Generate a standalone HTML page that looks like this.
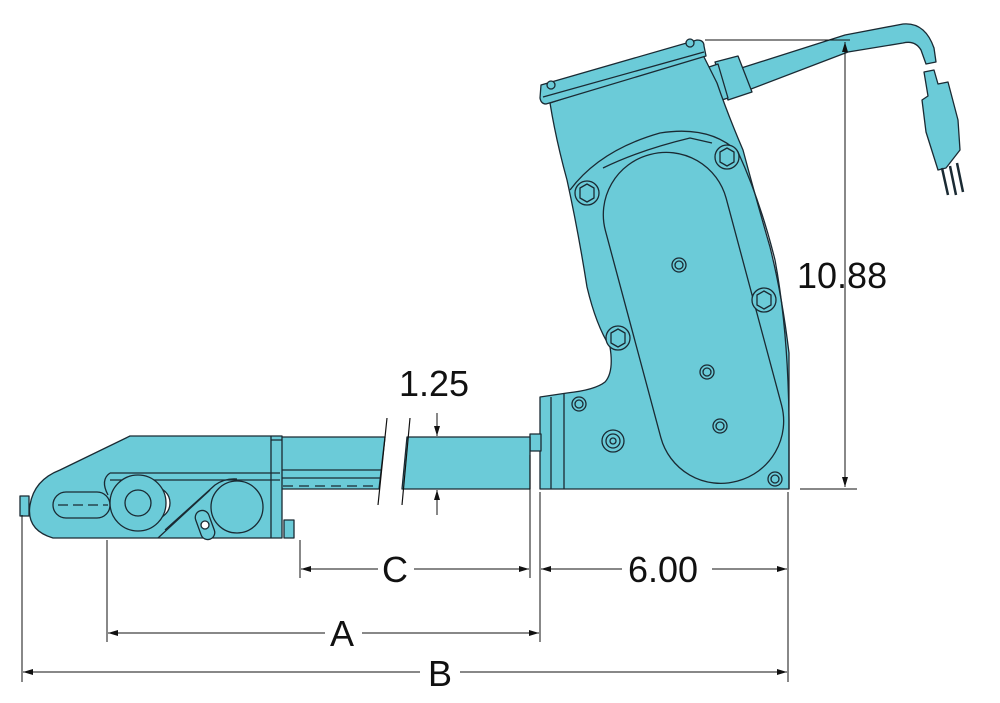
<!DOCTYPE html>
<html><head><meta charset="utf-8"><style>
html,body{margin:0;padding:0;background:#fff;}
svg{display:block}
text{font-family:"Liberation Sans",Arial,sans-serif;fill:#111}
</style></head><body>
<svg width="1000" height="703" viewBox="0 0 1000 703" xmlns="http://www.w3.org/2000/svg">
<defs>
<marker id="ar" viewBox="0 0 10 6" refX="10" refY="3" markerWidth="14" markerHeight="6" markerUnits="userSpaceOnUse" orient="auto-start-reverse"><path d="M0,0 L10,3 L0,6z" fill="#111"/></marker>
</defs>
<g stroke="#1a2a33" stroke-width="1.3" fill="#6bcbd8" stroke-linejoin="round">
<!-- cord -->
<path d="M735,70 L845,35 L903,24 Q925,22 934,48 L936,62 L926,64 L921,50 Q915,40 903,43 L848,52 L738,94 Z"/>
<path d="M924,72 L934,70 L938,84 L948,82 L958,120 L960,150 L946,168 L938,170 L926,132 L922,100 L928,96 Z"/>
<path d="M942,168 L948,195 M950,166 L956,195 M957,163 L963,192" fill="none" stroke-width="2.5"/>
<!-- connector -->
<path d="M715,62 L738,56 L752,92 L728,100 Z"/>
<path d="M706,68 L718,64 L728,98 L716,102 Z"/>
<!-- main housing -->
<path d="M550,103 Q556,140 567,180 Q578,230 587,287 Q596,325 610,347 Q614,372 605,382 Q595,390 567,393 L540,397 L540,489 L789,489 L789,353 Q782,295 770,247 Q755,195 743,150 Q728,115 717,83 L702,53 Z"/>
<!-- top cap -->
<path d="M541,85 L697,40 Q704,40 704,46 L706,56 L546,104 Q541,104 540,98 Z"/>
<path d="M543,97 L704,52" fill="none"/>
<circle cx="690" cy="43" r="4"/><circle cx="551" cy="85" r="4"/>
<!-- plate outline -->
<path d="M570,190 Q600,150 660,133 Q710,125 738,152 Q760,200 775,260 Q788,330 789,420 L789,489" fill="none"/>
<path d="M603,168 Q640,150 690,138 L712,143" fill="none"/>
<!-- capsule -->
<rect x="631" y="149" width="125" height="338" rx="62" transform="rotate(-15 693 318)"/>
<!-- step lines -->
<path d="M551,397 L551,489 M564,393 L564,489" fill="none"/>
<!-- bolts -->
<g>
<circle cx="587" cy="193" r="12"/><polygon points="580,188 587,184 594,188 594,198 587,202 580,198"/>
<circle cx="727" cy="157" r="12"/><polygon points="720,152 727,148 734,152 734,162 727,166 720,162"/>
<circle cx="764" cy="300" r="12"/><polygon points="757,295 764,291 771,295 771,305 764,309 757,305"/>
<circle cx="618" cy="338" r="12"/><polygon points="611,333 618,329 625,333 625,343 618,347 611,343"/>
<circle cx="679" cy="265" r="7"/><circle cx="679" cy="265" r="4"/>
<circle cx="707" cy="372" r="7"/><circle cx="707" cy="372" r="4"/>
<circle cx="720" cy="426" r="7"/><circle cx="720" cy="426" r="4"/>
<circle cx="579" cy="404" r="7"/><circle cx="579" cy="404" r="4"/>
<circle cx="775" cy="479" r="7"/><circle cx="775" cy="479" r="4"/>
<circle cx="613" cy="441" r="11"/><circle cx="613" cy="441" r="7"/><circle cx="613" cy="441" r="3"/>
</g>
<!-- collar -->
<rect x="530" y="434" width="11" height="17"/>
<!-- tube right -->
<path d="M407,437 L530,437 L530,489 L402,489 Z"/>
<!-- tube left -->
<path d="M280,437 L385,437 L379,489 L280,489 Z"/>
<path d="M280,470 L381,470 M280,478 L380,478" fill="none"/>
<path d="M283,486 L378,486" fill="none" stroke-dasharray="10,6"/>
<!-- lower arm -->
<path d="M130,436 L282,436 L282,538 L53,538 Q26,530 30,505 Q34,480 60,470 Z"/>
<path d="M271,436 L271,538 M271,440 L282,440" fill="none"/>
<path d="M110,473 L280,473 M110,480 L280,480" fill="none"/>
<rect x="53" y="492" width="57" height="26" rx="13"/>
<path d="M58,505 L108,505" fill="none" stroke-dasharray="10,5"/>
<path d="M110,473 Q100,480 108,495" fill="none"/>
<circle cx="154" cy="503" r="16" fill="#fff"/>
<circle cx="138" cy="503" r="28"/>
<circle cx="138" cy="503" r="13"/>
<path d="M165,530 L215,485 Q225,478 237,479" fill="none"/>
<path d="M158,538 L210,490" fill="none"/>
<circle cx="237" cy="507" r="26"/>
<rect x="198" y="510" width="14" height="30" rx="7" transform="rotate(-20 205 525)"/>
<circle cx="205" cy="525" r="4" fill="#fff"/>
<rect x="20" y="496" width="9" height="20"/>
<rect x="284" y="520" width="10" height="18"/>
</g>
<!-- break lines -->
<g stroke="#111" stroke-width="1.2" fill="none">
<path d="M387,418 L378,505 M410,418 L402,505"/>
</g>
<!-- dimensions -->
<g stroke="#111" stroke-width="1" fill="none">
<path d="M705,40 L850,40 M800,489 L857,489"/>
<path d="M845,42 L845,487" marker-start="url(#ar)" marker-end="url(#ar)"/>
<path d="M437,413 L437,436" marker-end="url(#ar)"/>
<path d="M437,515 L437,490" marker-end="url(#ar)"/>
<path d="M300,540 L300,578 M530,455 L530,578 M540,492 L540,642 M788,492 L788,682 M107,540 L107,642 M22,515 L22,682"/>
<path d="M301,569 L378,569" marker-start="url(#ar)"/>
<path d="M414,569 L529,569" marker-end="url(#ar)"/>
<path d="M541,569 L622,569" marker-start="url(#ar)"/>
<path d="M712,569 L787,569" marker-end="url(#ar)"/>
<path d="M108,633 L325,633" marker-start="url(#ar)"/>
<path d="M362,633 L539,633" marker-end="url(#ar)"/>
<path d="M23,672 L420,672" marker-start="url(#ar)"/>
<path d="M460,672 L787,672" marker-end="url(#ar)"/>
</g>
<g font-size="36">
<text x="797" y="288">10.88</text>
<text x="399" y="396">1.25</text>
<text x="382" y="582">C</text>
<text x="628" y="582">6.00</text>
<text x="330" y="646">A</text>
<text x="428" y="686">B</text>
</g>
</svg>
</body></html>
